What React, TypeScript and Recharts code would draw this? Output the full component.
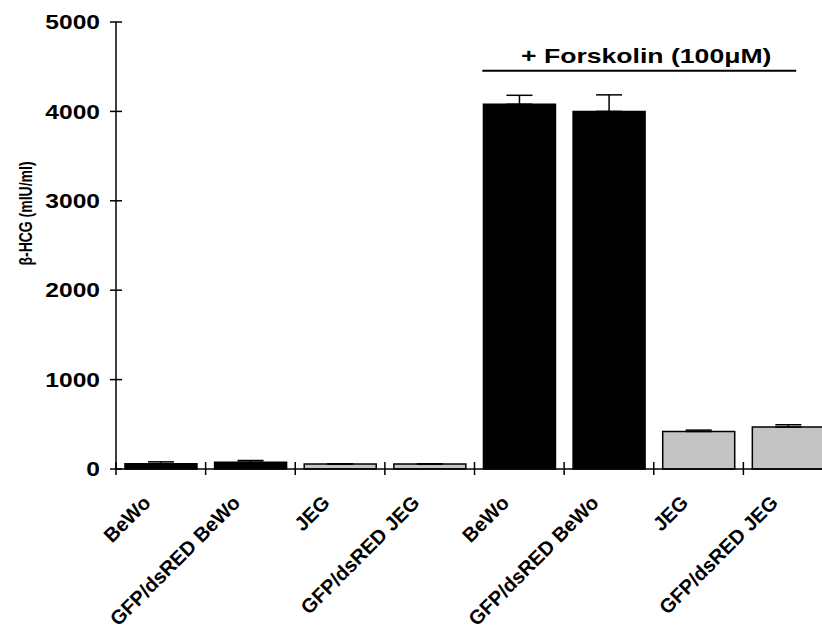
import React from 'react';
import { BarChart, Bar, XAxis, YAxis, ErrorBar, Cell, ReferenceLine } from 'recharts';

// categories, left half untreated, right half + forskolin
const labels = ['BeWo', 'GFP/dsRED BeWo', 'JEG', 'GFP/dsRED JEG', 'BeWo', 'GFP/dsRED BeWo', 'JEG', 'GFP/dsRED JEG'];
const cellType = ['BeWo', 'BeWo', 'JEG', 'JEG', 'BeWo', 'BeWo', 'JEG', 'JEG'];
const hcg = [60, 75, 55, 55, 4080, 4000, 420, 470];
const sem = [20, 20, 3, 3, 100, 185, 15, 25];
const yTicks = [0, 1000, 2000, 3000, 4000, 5000];
const forskolinFrom = 4;
const forskolinTo = 7;
const forskolinLevel = 4455;

const colors: Record<string, string> = { BeWo: '#000000', JEG: '#c4c4c4' };

const data = labels.map((label, i) => ({
  id: `c${i}`,
  label,
  type: cellType[i],
  value: hcg[i],
  err: [0, sem[i]],
}));

const W = 840;
const H = 638;
const MARGIN = { top: 22, right: 7, left: 0, bottom: 0 };
const Y_AXIS_W = 116;
const BAND = (W - MARGIN.left - MARGIN.right - Y_AXIS_W) / labels.length;
const FONT = '"Liberation Sans", Arial, Helvetica, sans-serif';

const renderXTick = (props: any) => {
  const { x, y, index } = props;
  return (
    <g key={`xt-${index}`}>
      <line x1={x - BAND / 2} x2={x - BAND / 2} y1={y - 7} y2={y + 6} stroke="#000" strokeWidth={1.5} />
      <g transform={`translate(${x - 9},${y + 35})`}>
        <text x={0} y={0} transform="rotate(-45)" textAnchor="end" fontSize={20} fontWeight="bold" fill="#000">
          {labels[index]}
        </text>
      </g>
    </g>
  );
};

const renderYTick = (props: any) => {
  const { x, y, payload, index } = props;
  return (
    <g key={`yt-${index}`}>
      <line x1={x - 6} x2={x + 6} y1={y} y2={y} stroke="#000" strokeWidth={1.5} />
      <g transform={`translate(${x - 16},${y})`}>
        <text x={0} y={0} dy="0.36em" textAnchor="end" fontSize={20} fontWeight="bold" fill="#000" transform="scale(1.23,1)">
          {payload.value}
        </text>
      </g>
    </g>
  );
};

const YLabel = (props: any) => {
  const { viewBox } = props;
  const cx = viewBox.x + 25;
  const cy = viewBox.y + viewBox.height / 2 - 32;
  return (
    <g transform={`translate(${cx},${cy})`}>
      <text x={0} y={0} dy="0.36em" transform="rotate(-90) scale(1,1.3)" textAnchor="middle" fontSize={14} fontWeight="bold" fill="#000">
        β-HCG (mIU/ml)
      </text>
    </g>
  );
};

const ForskolinBracket = (props: any) => {
  const { x1, x2, y1 } = props;
  const left = x1 - 37;
  const right = x2 + 8;
  const tx = (left + right) / 2 + 7;
  return (
    <g>
      <line x1={left} x2={right} y1={y1} y2={y1} stroke="#000" strokeWidth={2} />
      <g transform={`translate(${tx},${y1 - 8})`}>
        <text x={0} y={0} textAnchor="middle" fontSize={20} fontWeight="bold" fill="#000" transform="scale(1.33,1)">
          + Forskolin (100μM)
        </text>
      </g>
    </g>
  );
};

export default function App() {
  return (
    <div
      style={{
        position: 'fixed',
        top: 0,
        left: 0,
        width: 822,
        height: 638,
        overflow: 'hidden',
        background: '#fff',
        fontFamily: FONT,
      }}
    >
      <BarChart width={W} height={H} data={data} margin={MARGIN} barCategoryGap="10%" style={{ fontFamily: FONT }}>
        <XAxis
          dataKey="id"
          height={169}
          interval={0}
          tickSize={0}
          tickMargin={0}
          tickLine={false}
          tick={renderXTick}
          axisLine={{ stroke: '#000', strokeWidth: 1.5 }}
        />
        <YAxis
          width={Y_AXIS_W}
          domain={[0, 5000]}
          ticks={yTicks}
          interval={0}
          tickSize={0}
          tickMargin={0}
          tickLine={false}
          tick={renderYTick}
          axisLine={{ stroke: '#000', strokeWidth: 1.5 }}
          label={<YLabel />}
        />
        <Bar dataKey="value" stroke="#000" strokeWidth={1.5} isAnimationActive={false}>
          {data.map((d) => (
            <Cell key={d.id} fill={colors[d.type]} />
          ))}
          <ErrorBar dataKey="err" width={13} stroke="#000" strokeWidth={1.5} direction="y" isAnimationActive={false} />
        </Bar>
        <ReferenceLine
          segment={[
            { x: data[forskolinFrom].id, y: forskolinLevel },
            { x: data[forskolinTo].id, y: forskolinLevel },
          ]}
          shape={<ForskolinBracket />}
        />
      </BarChart>
    </div>
  );
}
